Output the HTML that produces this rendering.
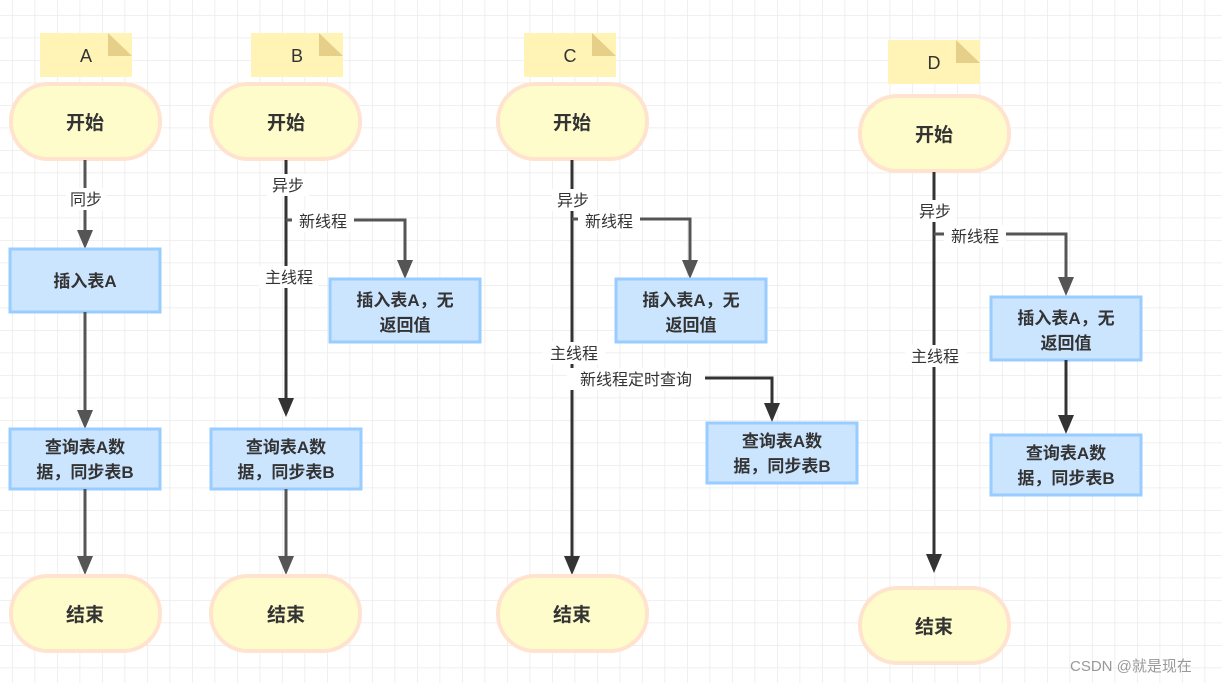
<!DOCTYPE html>
<html><head><meta charset="utf-8"><style>
html,body{margin:0;padding:0;background:#fff}
svg{display:block}
text{font-family:"Liberation Sans","Noto Sans CJK SC",sans-serif}
.b{font-weight:bold;font-size:19px;fill:#333;text-anchor:middle}
.bx{font-weight:bold;font-size:17px;fill:#333;text-anchor:middle}
.l{font-size:16px;fill:#333;text-anchor:middle}
.n{font-size:18px;fill:#333;text-anchor:middle}
.pill{fill:#fffccb;stroke:#ffe3cf;stroke-width:4}
.box{fill:#cce5ff;stroke:#99ccff;stroke-width:3}
.note{fill:#fff3b5}
.fold{fill:#e6cf89}
</style></head><body>
<svg width="1222" height="683" viewBox="0 0 1222 683" xmlns="http://www.w3.org/2000/svg">
<defs>
<pattern id="g" x="12" y="15" width="22.5" height="22.5" patternUnits="userSpaceOnUse">
<path d="M0 0V22.5M0 0H22.5" stroke="#ebebeb" stroke-width="1.5" fill="none"/>
</pattern>
<marker id="ag" markerWidth="14" markerHeight="16" refX="7" refY="16" orient="auto" markerUnits="userSpaceOnUse" viewBox="0 0 14 16"><path d="M0 0L14 0L7 16Z" fill="#555" transform="rotate(-90 7 8) translate(0 0)"/></marker>
</defs>
<rect width="1222" height="683" fill="#fff"/>
<rect width="1222" height="683" fill="url(#g)"/>

<g id="arrows">
</g>

<!-- A -->
<rect class="note" x="40" y="33" width="92" height="44"/><path class="fold" d="M108 33L132 56H108Z"/><path d="M108 33L132 56" stroke="#fff" stroke-width="0"/>
<text class="n" x="86" y="62" style="font-weight:normal">A</text>
<rect class="pill" x="11" y="84" width="149" height="75" rx="37"/>
<text class="b" x="85" y="129">开始</text>
<line x1="85" y1="160" x2="85" y2="232" stroke="#555" stroke-width="3"/>
<path d="M77 230L93 230L85 249Z" fill="#555"/>
<rect x="66" y="188" width="40" height="22" fill="#fff"/><text class="l" x="86" y="205">同步</text>
<rect class="box" x="10" y="249" width="150" height="63"/>
<text class="bx" x="85" y="287">插入表A</text>
<line x1="85" y1="312" x2="85" y2="412" stroke="#555" stroke-width="3"/>
<path d="M77 410L93 410L85 429Z" fill="#555"/>
<rect class="box" x="10" y="429" width="150" height="60"/>
<text class="bx" x="85" y="453">查询表A数</text><text class="bx" x="85" y="478">据，同步表B</text>
<line x1="85" y1="489" x2="85" y2="558" stroke="#555" stroke-width="3"/>
<path d="M77 556L93 556L85 575Z" fill="#555"/>
<rect class="pill" x="11" y="576" width="149" height="75" rx="37"/>
<text class="b" x="85" y="621">结束</text>

<!-- B -->
<rect class="note" x="251" y="33" width="92" height="44"/><path class="fold" d="M319 33L343 56H319Z"/>
<text class="n" x="297" y="62">B</text>
<rect class="pill" x="211" y="84" width="149" height="75" rx="37"/>
<text class="b" x="286" y="129">开始</text>
<line x1="286" y1="160" x2="286" y2="400" stroke="#333" stroke-width="3"/>
<path d="M278 398L294 398L286 417Z" fill="#333"/>
<polyline points="286,220 405,220 405,262" fill="none" stroke="#555" stroke-width="3"/>
<path d="M397 260L413 260L405 279Z" fill="#555"/>
<rect x="267" y="174" width="42" height="22" fill="#fff"/><text class="l" x="288" y="191">异步</text>
<rect x="292" y="210" width="62" height="22" fill="#fff"/><text class="l" x="323" y="227">新线程</text>
<rect x="259" y="266" width="60" height="22" fill="#fff"/><text class="l" x="289" y="283">主线程</text>
<rect class="box" x="330" y="279" width="150" height="63"/>
<text class="bx" x="405" y="306">插入表A，无</text><text class="bx" x="405" y="331">返回值</text>
<rect class="box" x="211" y="429" width="150" height="60"/>
<text class="bx" x="286" y="453">查询表A数</text><text class="bx" x="286" y="478">据，同步表B</text>
<line x1="286" y1="489" x2="286" y2="558" stroke="#555" stroke-width="3"/>
<path d="M278 556L294 556L286 575Z" fill="#555"/>
<rect class="pill" x="211" y="576" width="149" height="75" rx="37"/>
<text class="b" x="286" y="621">结束</text>

<!-- C -->
<rect class="note" x="524" y="33" width="92" height="44"/><path class="fold" d="M592 33L616 56H592Z"/>
<text class="n" x="570" y="62">C</text>
<rect class="pill" x="498" y="84" width="149" height="75" rx="37"/>
<text class="b" x="572" y="129">开始</text>
<line x1="572" y1="160" x2="572" y2="558" stroke="#333" stroke-width="3"/>
<path d="M564 556L580 556L572 575Z" fill="#333"/>
<polyline points="572,219 690,219 690,262" fill="none" stroke="#555" stroke-width="3"/>
<path d="M682 260L698 260L690 279Z" fill="#555"/>
<polyline points="572,378 772,378 772,405" fill="none" stroke="#333" stroke-width="3"/>
<path d="M764 403L780 403L772 422Z" fill="#333"/>
<rect x="552" y="189" width="42" height="22" fill="#fff"/><text class="l" x="573" y="206">异步</text>
<rect x="578" y="210" width="62" height="22" fill="#fff"/><text class="l" x="609" y="227">新线程</text>
<rect x="543" y="342" width="62" height="22" fill="#fff"/><text class="l" x="574" y="359">主线程</text>
<rect x="567" y="368" width="138" height="22" fill="#fff"/><text class="l" x="636" y="385">新线程定时查询</text>
<rect class="box" x="616" y="279" width="150" height="63"/>
<text class="bx" x="691" y="306">插入表A，无</text><text class="bx" x="691" y="331">返回值</text>
<rect class="box" x="707" y="423" width="150" height="60"/>
<text class="bx" x="782" y="447">查询表A数</text><text class="bx" x="782" y="472">据，同步表B</text>
<rect class="pill" x="498" y="576" width="149" height="75" rx="37"/>
<text class="b" x="572" y="621">结束</text>

<!-- D -->
<rect class="note" x="888" y="40" width="92" height="44"/><path class="fold" d="M956 40L980 63H956Z"/>
<text class="n" x="934" y="69">D</text>
<rect class="pill" x="860" y="96" width="149" height="75" rx="37"/>
<text class="b" x="934" y="141">开始</text>
<line x1="934" y1="172" x2="934" y2="556" stroke="#333" stroke-width="3"/>
<path d="M926 554L942 554L934 573Z" fill="#333"/>
<polyline points="934,234 1066,234 1066,279" fill="none" stroke="#555" stroke-width="3"/>
<path d="M1058 277L1074 277L1066 296Z" fill="#555"/>
<rect x="914" y="200" width="42" height="22" fill="#fff"/><text class="l" x="935" y="217">异步</text>
<rect x="944" y="225" width="62" height="22" fill="#fff"/><text class="l" x="975" y="242">新线程</text>
<rect x="905" y="345" width="62" height="22" fill="#fff"/><text class="l" x="935" y="362">主线程</text>
<rect class="box" x="991" y="297" width="150" height="63"/>
<text class="bx" x="1066" y="324">插入表A，无</text><text class="bx" x="1066" y="349">返回值</text>
<line x1="1066" y1="360" x2="1066" y2="417" stroke="#333" stroke-width="3"/>
<path d="M1058 415L1074 415L1066 434Z" fill="#333"/>
<rect class="box" x="991" y="435" width="150" height="60"/>
<text class="bx" x="1066" y="459">查询表A数</text><text class="bx" x="1066" y="484">据，同步表B</text>
<rect class="pill" x="860" y="588" width="149" height="75" rx="37"/>
<text class="b" x="934" y="633">结束</text>

<text x="1070" y="671" style="font-size:15px;fill:#999">CSDN @就是现在</text>
</svg>
</body></html>
